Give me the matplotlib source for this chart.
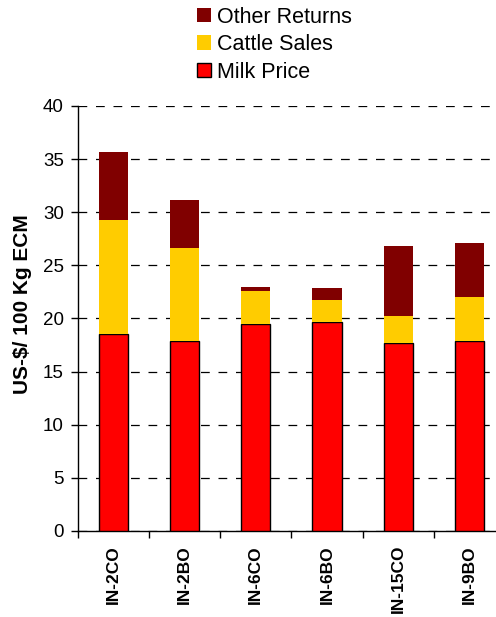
import matplotlib.pyplot as plt
import numpy as np

plt.rcParams['font.family'] = ['Liberation Sans', 'DejaVu Sans']

farms = ['IN-2CO', 'IN-2BO', 'IN-6CO', 'IN-6BO', 'IN-15CO', 'IN-9BO']
milk_price = [18.5, 17.85, 19.45, 19.65, 17.7, 17.85]
cattle_sales = [10.8, 8.75, 3.15, 2.05, 2.55, 4.15]
other_returns = [6.4, 4.55, 0.4, 1.2, 6.6, 5.1]

fig = plt.figure(figsize=(4.96, 6.17), dpi=100)
ax = fig.add_axes([0.157, 0.1394, 0.861, 0.689])

x = np.arange(len(farms))
w = 0.41
milk = np.array(milk_price)
cattle = np.array(cattle_sales)
other = np.array(other_returns)

b1 = ax.bar(x, milk, w, color='#FF0000', edgecolor='black', linewidth=1.0,
            label='Milk Price', zorder=3)
b2 = ax.bar(x, cattle, w, bottom=milk, color='#FFCC00', linewidth=0,
            label='Cattle Sales', zorder=3)
b3 = ax.bar(x, other, w, bottom=milk + cattle, color='#800000', linewidth=0,
            label='Other Returns', zorder=3)

ax.set_xlim(-0.5, 5.5)
ax.set_ylim(0, 40)
ax.set_yticks(np.arange(0, 41, 5))
ax.yaxis.grid(True, color='black', linestyle=(0, (7, 7)), linewidth=0.9, zorder=0)
ax.set_axisbelow(True)

# tick marks between the farms, names centred under the bars
ax.set_xticks(np.arange(-0.5, 6, 1))
ax.set_xticklabels([])
ax.set_xticks(x, minor=True)
ax.set_xticklabels(farms, minor=True, rotation=90, fontsize=12.5, fontweight='bold')
ax.tick_params(axis='x', which='minor', length=0, pad=10)
ax.tick_params(axis='x', which='major', direction='out', length=5, width=1)
ax.tick_params(axis='y', direction='out', length=5, width=1, labelsize=13.5, pad=5)

for s in ['top', 'right']:
    ax.spines[s].set_visible(False)
ax.spines['left'].set_linewidth(1)
ax.spines['bottom'].set_linewidth(1)

ax.set_ylabel('US-$/ 100 Kg ECM', fontsize=15, fontweight='bold')
ax.yaxis.set_label_coords(-0.108, 0.534)

leg = fig.legend([b3, b2, b1], ['Other Returns', 'Cattle Sales', 'Milk Price'],
                 loc='upper left', bbox_to_anchor=(0.372, 1.01), frameon=False,
                 fontsize=15.5, handlelength=0.65, handleheight=0.65,
                 handletextpad=0.25, labelspacing=0.3, borderpad=0.1)

fig.savefig('out.png', dpi=100)
